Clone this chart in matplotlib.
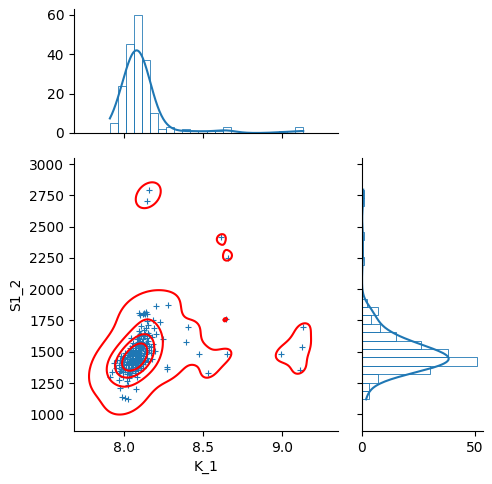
import numpy as np
import pandas as pd
import matplotlib
matplotlib.use("Agg")
import matplotlib.pyplot as plt
import seaborn as sns

# main cluster, grouped by K_1 bins
core_k = [7.909, 7.925, 7.948, 7.935, 7.955,
          7.972, 7.966, 7.990, 7.964, 7.975, 7.981, 7.993, 7.998, 8.004, 7.987, 7.969, 7.978, 7.983, 7.991,
          7.996, 8.001, 8.006, 7.985, 7.973, 7.994, 8.003, 7.980,
          8.021, 8.016, 8.033, 8.045, 8.015, 8.022, 8.028, 8.035, 8.041, 8.048, 8.053, 8.026, 8.058, 8.014,
          8.019, 8.024, 8.027, 8.031, 8.034, 8.038, 8.040, 8.043, 8.046, 8.049, 8.051, 8.054, 8.056, 8.058,
          8.030, 8.047, 8.018, 8.025, 8.032, 8.037, 8.042, 8.047, 8.052, 8.055, 8.059, 8.039, 8.036, 8.050,
          8.057, 8.044,
          8.072, 8.081, 8.066, 8.074, 8.083, 8.090, 8.097, 8.068, 8.105, 8.065, 8.068, 8.071, 8.074, 8.077,
          8.080, 8.083, 8.086, 8.089, 8.092, 8.095, 8.098, 8.101, 8.104, 8.107, 8.110, 8.079, 8.066, 8.070,
          8.073, 8.077, 8.081, 8.084, 8.088, 8.091, 8.094, 8.098, 8.101, 8.104, 8.108, 8.086, 8.069, 8.075,
          8.080, 8.085, 8.089, 8.093, 8.097, 8.100, 8.103, 8.107, 8.110, 8.078, 8.088, 8.096, 8.102, 8.109,
          8.094, 8.106, 8.093, 8.100,
          8.121, 8.118, 8.126, 8.133, 8.141, 8.150, 8.117, 8.124, 8.131, 8.138, 8.147, 8.156, 8.119, 8.123,
          8.128, 8.135, 8.140, 8.146, 8.152, 8.158, 8.120, 8.127, 8.134, 8.143, 8.149, 8.155, 8.125, 8.137,
          8.152, 8.144, 8.117, 8.122, 8.130, 8.139, 8.147,
          8.178, 8.172, 8.194, 8.168, 8.185, 8.175, 8.203, 8.188, 8.181]
core_s = [1300, 1340, 1372, 1410, 1432,
          1210, 1275, 1302, 1330, 1348, 1361, 1335, 1372, 1356, 1380, 1395, 1412, 1428, 1401,
          1440, 1419, 1447, 1392, 1436, 1462, 1488, 1470,
          1238, 1268, 1290, 1312, 1325, 1340, 1356, 1333, 1370, 1348, 1381, 1366, 1362, 1398,
          1415, 1405, 1430, 1392, 1444, 1421, 1408, 1436, 1450, 1399, 1427, 1414, 1441, 1433,
          1418, 1425, 1460, 1478, 1495, 1467, 1508, 1486, 1472, 1515, 1493, 1482, 1530, 1548,
          1571, 1612,
          1200, 1296, 1344, 1362, 1376, 1352, 1385, 1329, 1371, 1395, 1422, 1409, 1438, 1401,
          1446, 1417, 1430, 1393, 1452, 1425, 1440, 1411, 1447, 1434, 1420, 1428, 1463, 1490,
          1472, 1505, 1481, 1516, 1468, 1498, 1486, 1511, 1476, 1520, 1494, 1502, 1528, 1545,
          1562, 1533, 1577, 1551, 1585, 1539, 1566, 1556, 1581, 1598, 1625, 1610, 1643, 1631,
          1668, 1702, 1806, 1795,
          1368, 1402, 1437, 1418, 1449, 1426, 1470, 1492, 1510, 1480, 1501, 1517, 1531, 1557,
          1543, 1574, 1528, 1562, 1586, 1549, 1603, 1622, 1641, 1609, 1650, 1630, 1672, 1690,
          1711, 1748, 1798, 1810, 1803, 1817, 1800,
          1445, 1488, 1510, 1540, 1566, 1620, 1645, 1690, 1752]

# scattered points away from the cluster
out_k = [7.984, 8.004, 8.025, 8.146, 8.158, 8.200, 8.228, 8.245, 8.278, 8.270, 8.272, 8.390,
         8.405, 8.475, 8.532, 8.610, 8.642, 8.648, 8.658, 8.994, 9.110, 9.127, 9.133]
out_s = [1140, 1128, 1120, 2706, 2795, 1862, 1740, 1600, 1873, 1378, 1365, 1575,
         1695, 1482, 1327, 2418, 1759, 1482, 2250, 1482, 1354, 1535, 1695]

df = pd.DataFrame({"K_1": core_k + out_k, "S1_2": core_s + out_s})

g = sns.JointGrid(data=df, x="K_1", y="S1_2", height=5, ratio=2, marginal_ticks=True)
g.plot_joint(sns.scatterplot, marker="+", s=20, linewidth=0.8)
g.plot_joint(sns.kdeplot, color="r", levels=5)
sns.histplot(data=df, x="K_1", ax=g.ax_marg_x, bins=24, kde=True, fill=False)
sns.histplot(data=df, y="S1_2", ax=g.ax_marg_y, bins=25, kde=True, fill=False)
g.ax_marg_x.set_xlabel("")
g.ax_marg_x.set_ylabel("")
g.ax_marg_y.set_xlabel("")
g.ax_marg_y.set_ylabel("")
g.ax_joint.set_xlabel("K_1")
g.ax_joint.set_ylabel("S1_2")

fig = g.figure
fig.set_size_inches(4.92, 4.84)
g.ax_joint.set_position([74 / 492, 53 / 484, 264 / 492, 273 / 484])
g.ax_marg_x.set_position([74 / 492, 351 / 484, 264 / 492, 124 / 484])
g.ax_marg_y.set_position([362 / 492, 53 / 484, 121 / 492, 273 / 484])
g.ax_joint.set_xlim(7.682, 9.353)
g.ax_joint.set_ylim(867, 3048)

fig.savefig("out.png", dpi=100)
